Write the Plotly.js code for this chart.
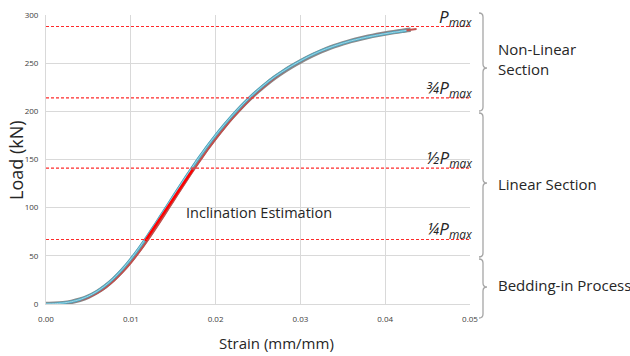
<!DOCTYPE html>
<html><head><meta charset="utf-8">
<script src="https://cdn.plot.ly/plotly-3.0.1.min.js"></script>
<style>html,body{margin:0;padding:0;background:#fff}#c{width:630px;height:356px}</style>
</head><body><div id="c"></div>
<script>
// Specimen curves (strain mm/mm, load kN)
const blueX = [0,0.001,0.002,0.003,0.004,0.005,0.006,0.007,0.008,0.009,0.010,0.011,0.012,0.013,0.014,0.015,0.016,0.017,0.018,0.019,0.020,0.021,0.022,0.023,0.024,0.025,0.026,0.027,0.028,0.029,0.030,0.031,0.032,0.033,0.034,0.035,0.036,0.037,0.038,0.039,0.040,0.041,0.042,0.0425];
const blueY = [0,0.3,1.0,2.4,4.7,8.2,13.0,19.2,26.9,36.1,46.7,58.5,71.2,84.5,98.1,111.8,125.4,138.7,151.5,163.7,175.2,186.0,196.1,205.5,214.2,222.2,229.5,236.1,242.0,247.4,252.4,257.0,261.1,264.7,267.9,270.7,273.2,275.4,277.3,279.0,280.6,282.0,283.3,284.0];
const grayX = [0,0.001,0.002,0.003,0.004,0.005,0.006,0.007,0.008,0.009,0.010,0.011,0.012,0.013,0.014,0.015,0.016,0.017,0.018,0.019,0.020,0.021,0.022,0.023,0.024,0.025,0.026,0.027,0.028,0.029,0.030,0.031,0.032,0.033,0.034,0.035,0.036,0.037,0.038,0.039,0.040,0.041,0.042,0.043];
const grayY = [0,0.3,0.9,2.2,4.4,7.7,12.3,18.3,25.8,34.7,45.0,56.6,69.1,82.3,95.8,109.5,123.1,136.5,149.4,161.7,173.3,184.2,194.5,204.1,212.9,221.0,228.4,235.2,241.3,246.8,251.8,256.4,260.6,264.3,267.6,270.5,273.1,275.4,277.4,279.2,280.8,282.2,283.5,284.6];
const redX  = [0,0.001,0.002,0.003,0.004,0.005,0.006,0.007,0.008,0.009,0.010,0.011,0.012,0.013,0.014,0.015,0.016,0.017,0.018,0.019,0.020,0.021,0.022,0.023,0.024,0.025,0.026,0.027,0.028,0.029,0.030,0.031,0.032,0.033,0.034,0.035,0.036,0.037,0.038,0.039,0.040,0.041,0.042,0.043,0.0437];
const redY  = [0,0.2,0.8,2.0,4.0,7.0,11.3,17.0,24.2,32.8,42.8,54.0,66.3,79.3,92.8,106.5,120.2,133.7,146.8,159.3,171.2,182.4,192.9,202.7,211.8,220.2,227.9,234.9,241.2,246.8,251.9,256.6,260.8,264.5,267.8,270.7,273.3,275.6,277.6,279.4,281.0,282.4,283.7,284.8,285.5];
// Inclination estimation segment
const incX = [0.0117,0.0173];
const incY = [65.5,139.5];
// Load levels
const levelVals = [288,214,141,67];
const levelLabels = ['<i>P<sub>max</sub></i>','<i>¾P<sub>max</sub></i>','<i>½P<sub>max</sub></i>','<i>¼P<sub>max</sub></i>'];
// Sections
const sectionLabels = ['Non-Linear<br>Section','Linear Section','Bedding-in Process'];
const xTicks = [0,0.01,0.02,0.03,0.04,0.05];
const yTicks = [0,50,100,150,200,250,300];

const L=46, R=470, T=15, B=304;
const px = v => (v-L)/(R-L);
const py = v => (B-v)/(B-T);
function brace(yTop, yMid, yBot){
  const x0=483, xt=487, xe=479;
  const P=(x,y)=>px(x).toFixed(5)+','+py(y).toFixed(5);
  return 'M'+P(xe,yTop)+' Q'+P(x0,yTop)+' '+P(x0,yTop+4)+
    ' L'+P(x0,yMid-4)+' Q'+P(x0,yMid)+' '+P(xt,yMid)+
    ' Q'+P(x0,yMid)+' '+P(x0,yMid+4)+
    ' L'+P(x0,yBot-4)+' Q'+P(x0,yBot)+' '+P(xe,yBot);
}
const braces = [[13,68,111],[113,183,257],[259,287,318]];
const sectionY = [59,184,285];

const traces = [
  {x:grayX,y:grayY,mode:'lines',line:{color:'#8a8a8a',width:4.5,shape:'spline',smoothing:0.6},hoverinfo:'skip'},
  {x:redX,y:redY,mode:'lines',line:{color:'#c0504d',width:2,shape:'spline',smoothing:0.6},hoverinfo:'skip'},
  {x:blueX,y:blueY,mode:'lines',line:{color:'#4bacc6',width:2.6,shape:'spline',smoothing:0.6},hoverinfo:'skip'},
  {x:blueX,y:blueY,mode:'lines',line:{color:'#b9e0ec',width:0.8,shape:'spline',smoothing:0.6},hoverinfo:'skip'},
  {x:incX,y:incY,mode:'lines',line:{color:'#ff0000',width:2.5},hoverinfo:'skip'}
];
const shapes = levelVals.map(v=>({type:'line',xref:'x',yref:'y',x0:0,x1:0.05,y0:v,y1:v,line:{color:'#ff2a2a',width:1.1,dash:'3px,2px'}}));
braces.forEach(b=>shapes.push({type:'path',xref:'paper',yref:'paper',path:brace(b[0],b[1],b[2]),line:{color:'#a6a6a6',width:1.3}}));
const ann = [];
levelVals.forEach((v,i)=>ann.push({xref:'paper',yref:'y',x:px(475),y:v,xanchor:'right',yanchor:'bottom',yshift:-5,text:levelLabels[i],showarrow:false,font:{family:'Open Sans, sans-serif',size:17,color:'#262626'}}));
sectionLabels.forEach((t,i)=>ann.push({xref:'paper',yref:'paper',x:px(496),y:py(sectionY[i]),xanchor:'left',yanchor:'middle',align:'left',text:t,showarrow:false,font:{family:'Open Sans, sans-serif',size:15,color:'#262626'}}));
ann.push({xref:'paper',yref:'paper',x:px(259),y:py(212),xanchor:'center',yanchor:'middle',text:'Inclination Estimation',showarrow:false,font:{family:'Open Sans, sans-serif',size:14.5,color:'#262626'}});
ann.push({xref:'paper',yref:'paper',x:px(276),y:py(343),xanchor:'center',yanchor:'middle',text:'Strain (mm/mm)',showarrow:false,font:{family:'Open Sans, sans-serif',size:15,color:'#262626'}});
ann.push({xref:'paper',yref:'paper',x:px(16),y:py(160),xanchor:'center',yanchor:'middle',textangle:-90,text:'Load (kN)',showarrow:false,font:{family:'Open Sans, sans-serif',size:18,color:'#262626'}});

const layout = {
  width:630,height:356,margin:{l:L,r:630-R,t:T,b:356-B},
  paper_bgcolor:'#fff',plot_bgcolor:'#fff',showlegend:false,
  xaxis:{range:[0,0.05],tickvals:xTicks,ticktext:xTicks.map(v=>v.toFixed(2)),showgrid:true,gridcolor:'#d9d9d9',gridwidth:1,zeroline:false,showline:true,linecolor:'#d9d9d9',ticks:'',ticklabelstandoff:7,tickfont:{family:'Open Sans, sans-serif',size:8,color:'#404040'},fixedrange:true},
  yaxis:{range:[0,300],tickvals:yTicks,showgrid:true,gridcolor:'#d9d9d9',gridwidth:1,zeroline:false,showline:true,linecolor:'#d9d9d9',ticks:'',ticklabelstandoff:5,tickfont:{family:'Open Sans, sans-serif',size:8,color:'#404040'},fixedrange:true},
  shapes:shapes,annotations:ann
};
Plotly.newPlot('c',traces,layout,{displayModeBar:false,staticPlot:true});
</script></body></html>
